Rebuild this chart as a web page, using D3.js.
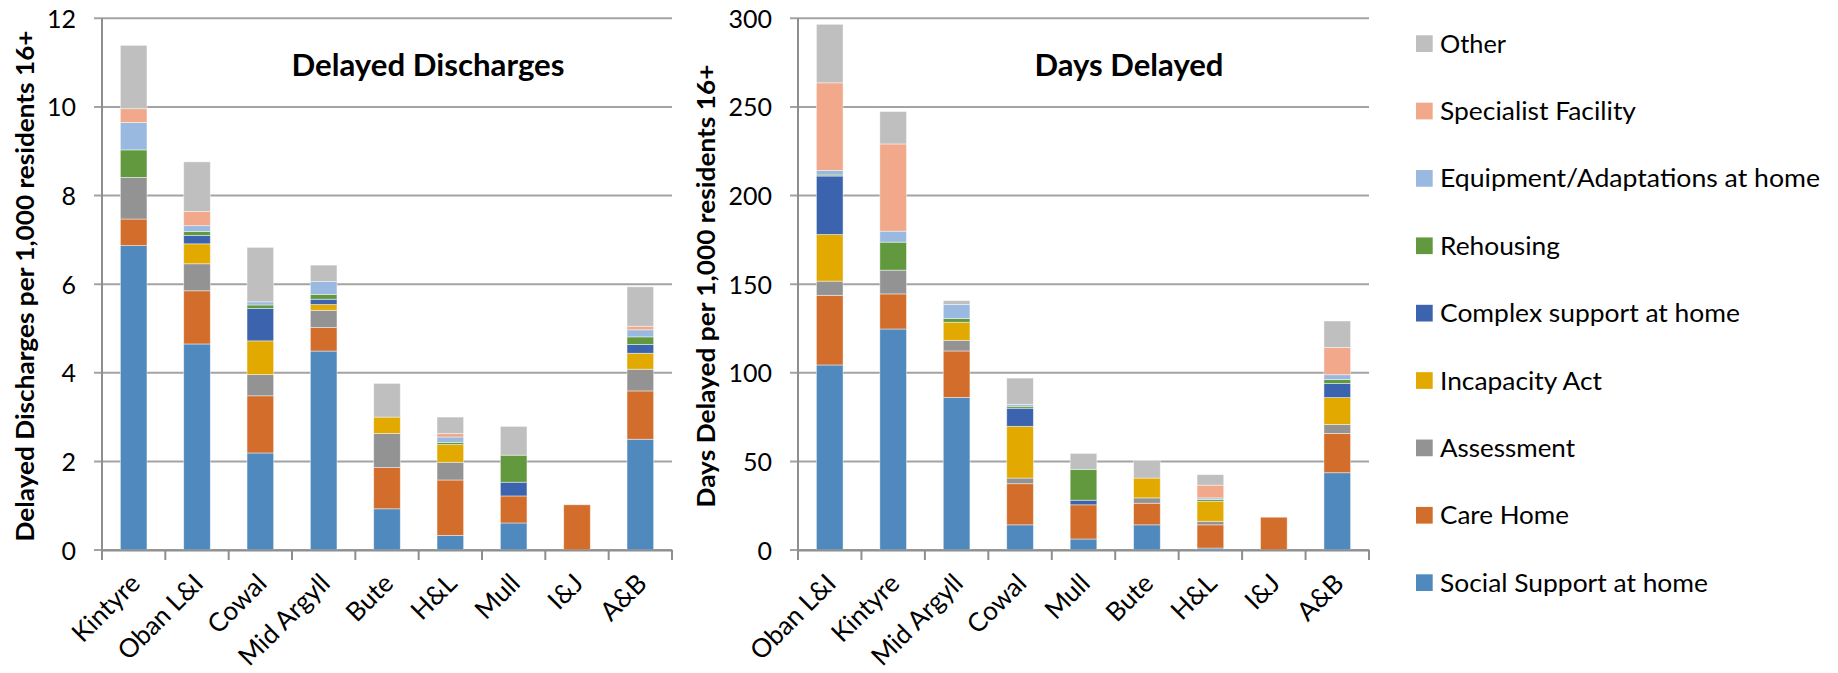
<!DOCTYPE html>
<html>
<head>
<meta charset="utf-8">
<script src="https://cdn.jsdelivr.net/npm/d3@7"></script>
<style>
  html, body { margin: 0; padding: 0; background: #fff; }
  svg { display: block; font-family: Lato, "Open Sans", sans-serif; }
</style>
</head>
<body>
<svg id="chart" width="1838" height="673"></svg>
<script>
// ---------- DATA ----------
const seriesNames = ["Social Support at home", "Care Home", "Assessment", "Incapacity Act",
  "Complex support at home", "Rehousing", "Equipment/Adaptations at home", "Specialist Facility", "Other"];
const seriesColors = ["#4F89BE", "#D36D2B", "#939393", "#E2AA00", "#3C63AD", "#62993E", "#9AB9E0", "#F1A88B", "#BFBFBF"];

// Chart 1: Delayed Discharges per 1,000 residents 16+
const ddCategories = ["Kintyre", "Oban L&I", "Cowal", "Mid Argyll", "Bute", "H&L", "Mull", "I&J", "A&B"];
const ddSocial     = [6.87, 4.65, 2.19, 4.49, 0.93, 0.33, 0.61, 0.00, 2.50];
const ddCareHome   = [0.60, 1.20, 1.29, 0.53, 0.93, 1.25, 0.61, 1.02, 1.09];
const ddAssessment = [0.94, 0.61, 0.48, 0.39, 0.77, 0.40, 0.00, 0.00, 0.49];
const ddIncapacity = [0.00, 0.45, 0.76, 0.13, 0.37, 0.40, 0.00, 0.00, 0.36];
const ddComplex    = [0.00, 0.19, 0.73, 0.12, 0.00, 0.00, 0.31, 0.00, 0.20];
const ddRehousing  = [0.62, 0.09, 0.08, 0.11, 0.00, 0.05, 0.61, 0.00, 0.17];
const ddEquipment  = [0.62, 0.13, 0.07, 0.29, 0.00, 0.12, 0.00, 0.00, 0.16];
const ddSpecialist = [0.31, 0.32, 0.00, 0.00, 0.00, 0.08, 0.00, 0.00, 0.08];
const ddOther      = [1.43, 1.12, 1.23, 0.37, 0.76, 0.37, 0.65, 0.00, 0.89];
const ddTicks = [0, 2, 4, 6, 8, 10, 12];

// Chart 2: Days Delayed per 1,000 residents 16+
const dyCategories = ["Oban L&I", "Kintyre", "Mid Argyll", "Cowal", "Mull", "Bute", "H&L", "I&J", "A&B"];
const dySocial     = [104.4, 124.7, 86.1, 14.2, 6.2, 14.2, 1.1, 0.0, 43.6];
const dyCareHome   = [39.3, 19.8, 26.2, 23.2, 19.3, 12.2, 13.1, 18.5, 22.2];
const dyAssessment = [8.0, 13.4, 6.0, 3.2, 0.0, 3.0, 2.0, 0.0, 5.0];
const dyIncapacity = [26.3, 0.0, 10.2, 29.2, 0.0, 11.2, 11.3, 0.0, 15.2];
const dyComplex    = [33.0, 0.0, 0.0, 10.2, 2.6, 0.0, 0.0, 0.0, 8.0];
const dyRehousing  = [0.6, 15.8, 2.1, 1.1, 17.4, 0.0, 1.0, 0.0, 2.2];
const dyEquipment  = [2.6, 6.2, 7.9, 1.0, 0.0, 0.0, 0.9, 0.0, 2.7];
const dySpecialist = [49.4, 49.2, 0.0, 0.0, 0.0, 0.0, 7.2, 0.0, 15.4];
const dyOther      = [33.0, 18.3, 2.2, 14.9, 9.0, 10.0, 5.9, 0.0, 14.9];
const dyTicks = [0, 50, 100, 150, 200, 250, 300];

// ---------- DRAW ----------
const svg = d3.select("#chart");
const legendWidths = [268, 129, 135, 162, 300, 120, 380, 196, 66];

function drawChart(cfg) {
  const g = svg.append("g");
  const x = d3.scaleBand().domain(cfg.categories).range(cfg.xRange)
    .paddingInner(0.58).paddingOuter(0.29);
  const y = d3.scaleLinear().domain(cfg.yDomain).range(cfg.yRange);
  const step = x.step();
  const off = (step - x.bandwidth()) / 2;

  // gridlines (extend left as tick marks)
  g.append("g").selectAll("line").data(cfg.ticks).join("line")
    .attr("x1", cfg.xRange[0] - 8).attr("x2", cfg.xRange[1])
    .attr("y1", d => y(d)).attr("y2", d => y(d))
    .attr("stroke", "#A3A3A3").attr("stroke-width", 2);

  // y labels via axis
  const ya = g.append("g").attr("transform", `translate(${cfg.xRange[0]},0)`)
    .call(d3.axisLeft(y).tickValues(cfg.ticks).tickSize(0).tickPadding(26).tickFormat(d3.format("d")));
  ya.select(".domain").remove();
  ya.selectAll("text").attr("font-size", 25).attr("font-family", "Lato").attr("fill", "#000")
    .attr("dy", "0.36em");

  // stacked bars
  const rows = cfg.categories.map((c, i) => {
    const r = { cat: c };
    cfg.values.forEach((arr, k) => r[seriesNames[k]] = arr[i]);
    return r;
  });
  const stacked = d3.stack().keys(seriesNames)(rows);
  g.append("g").selectAll("g").data(stacked).join("g")
    .attr("fill", (d, i) => seriesColors[i])
    .selectAll("rect").data(d => d.filter(s => s[1] - s[0] > 0)).join("rect")
    .attr("x", d => x(d.data.cat))
    .attr("width", x.bandwidth())
    .attr("y", d => y(d[1]))
    .attr("height", d => y(d[0]) - y(d[1]))
    .attr("stroke", "#ffffff").attr("stroke-width", 0.8).attr("stroke-opacity", 0.55);

  // y axis line
  g.append("line").attr("x1", cfg.xRange[0]).attr("x2", cfg.xRange[0])
    .attr("y1", y(cfg.yDomain[1])).attr("y2", y(0) + 10)
    .attr("stroke", "#8E8E8E").attr("stroke-width", 2);

  // x axis
  const xa = g.append("g").attr("transform", `translate(0,${y(0)})`)
    .call(d3.axisBottom(x).tickSize(0));
  xa.select(".domain").attr("stroke", "#8E8E8E").attr("stroke-width", 2);
  xa.selectAll("text")
    .attr("font-size", 26).attr("font-family", "Lato").attr("fill", "#000")
    .attr("text-anchor", "end").attr("y", 0).attr("dy", 0)
    .attr("transform", "translate(8,35) rotate(-45)");
  // boundary tick marks
  const bounds = cfg.categories.map(c => x(c) - off).concat([cfg.xRange[1]]);
  g.append("g").selectAll("line").data(bounds).join("line")
    .attr("x1", d => d).attr("x2", d => d)
    .attr("y1", y(0)).attr("y2", y(0) + 10)
    .attr("stroke", "#8E8E8E").attr("stroke-width", 2);

  // axis title
  g.append("text")
    .attr("transform", `translate(${cfg.titleX},286) rotate(-90)`)
    .attr("text-anchor", "middle").attr("font-weight", "bold")
    .attr("font-size", 25).attr("font-family", "Lato")
    .attr("textLength", cfg.titleLen).attr("lengthAdjust", "spacingAndGlyphs")
    .text(cfg.yTitle);

  // chart title
  g.append("text")
    .attr("x", cfg.headX).attr("y", 76)
    .attr("text-anchor", "middle").attr("font-weight", "bold")
    .attr("font-size", 30).attr("font-family", "Lato")
    .attr("textLength", cfg.headLen).attr("lengthAdjust", "spacingAndGlyphs")
    .text(cfg.head);
}

drawChart({
  categories: ddCategories,
  values: [ddSocial, ddCareHome, ddAssessment, ddIncapacity, ddComplex, ddRehousing, ddEquipment, ddSpecialist, ddOther],
  xRange: [102, 672], yDomain: [0, 12], yRange: [550, 18.3], ticks: ddTicks,
  yTitle: "Delayed Discharges per 1,000 residents 16+", titleX: 34, titleLen: 511,
  head: "Delayed Discharges", headX: 428, headLen: 273
});
drawChart({
  categories: dyCategories,
  values: [dySocial, dyCareHome, dyAssessment, dyIncapacity, dyComplex, dyRehousing, dyEquipment, dySpecialist, dyOther],
  xRange: [798, 1369], yDomain: [0, 300], yRange: [550, 18.3], ticks: dyTicks,
  yTitle: "Days Delayed per 1,000 residents 16+", titleX: 715, titleLen: 443,
  head: "Days Delayed", headX: 1129, headLen: 189
});

// legend (reverse order, top = Other)
const legendOrder = d3.range(seriesNames.length).reverse();
const lg = svg.append("g");
const ly = d3.scalePoint().domain(legendOrder).range([43.7, 582.7]);
const items = lg.selectAll("g").data(legendOrder).join("g")
  .attr("transform", k => `translate(1416,${ly(k)})`);
items.append("rect").attr("x", 0).attr("y", -8.4).attr("width", 16.7).attr("height", 16.7)
  .attr("fill", k => seriesColors[k]);
items.append("text").attr("x", 24).attr("y", 0).attr("dy", "0.36em")
  .attr("font-size", 25).attr("font-family", "Lato")
  .attr("textLength", k => legendWidths[k]).attr("lengthAdjust", "spacingAndGlyphs")
  .text(k => seriesNames[k]);
</script>
</body>
</html>
